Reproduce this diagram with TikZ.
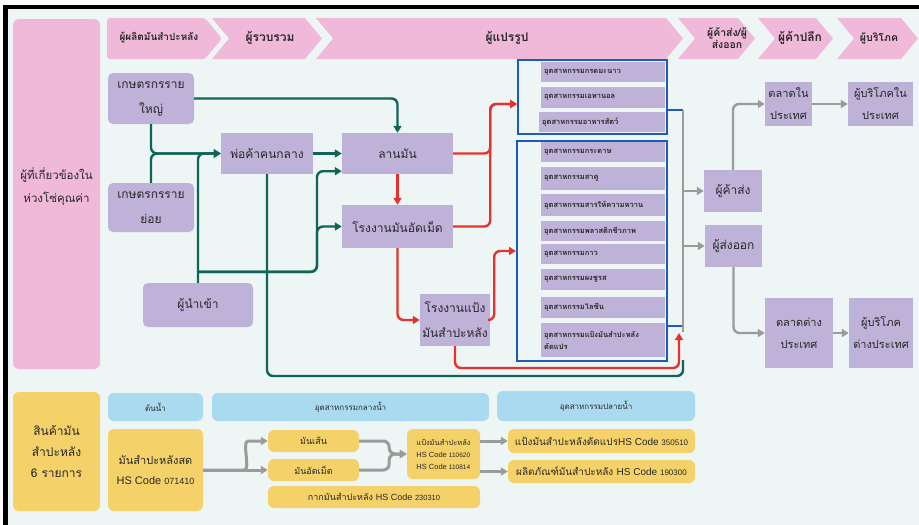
\documentclass[tikz,border=0pt]{standalone}
\usepackage{fontspec}
\setmainfont[Script=Thai]{Loma}
\newfontfamily\latf{Liberation Sans}
\usetikzlibrary{arrows.meta,calc}
\definecolor{bgc}{RGB}{238,245,245}
\definecolor{pinkc}{RGB}{240,185,217}
\definecolor{purp}{RGB}{190,178,216}
\definecolor{yel}{RGB}{245,210,105}
\definecolor{lblue}{RGB}{170,218,240}
\definecolor{tealc}{RGB}{16,100,88}
\definecolor{redc}{RGB}{230,50,45}
\definecolor{greyc}{RGB}{155,155,155}
\definecolor{bluec}{RGB}{30,90,185}
\definecolor{txt}{RGB}{40,40,40}
\begin{document}
\begin{tikzpicture}[x=1pt,y=-1pt,
  pbox/.style={fill=purp,draw=none,align=center,inner sep=1pt,text=txt,font=\fontsize{12}{25}\selectfont},
  rbox/.style={pbox,rounded corners=5pt},
  ibox/.style={fill=purp,draw=none,anchor=west,align=left,text width=118pt,inner xsep=3pt,inner ysep=0pt,text=txt,font=\bfseries\fontsize{7.5}{12}\selectfont},
  frame/.style={draw=bluec,line width=2pt,inner sep=0pt},
  hdr/.style={text=txt,align=center,font=\bfseries\fontsize{12}{13}\selectfont},
  tarr/.style={draw=tealc,line width=2.4pt,rounded corners=6pt,-{Triangle[length=7pt,width=8pt]}},
  tln/.style={draw=tealc,line width=2.4pt,rounded corners=6pt},
  rarr/.style={draw=redc,line width=2.4pt,rounded corners=6pt,-{Triangle[length=7pt,width=8pt]}},
  rln/.style={draw=redc,line width=2.4pt,rounded corners=6pt},
  garr/.style={draw=greyc,line width=2.4pt,rounded corners=6pt,-{Triangle[length=7pt,width=8pt]}},
  gln/.style={draw=greyc,line width=2.4pt},
  bln/.style={draw=bluec,line width=2pt},
  ybox/.style={fill=yel,draw=none,rounded corners=6pt,align=center,inner sep=1pt,text=txt},
  bbox/.style={fill=lblue,draw=none,rounded corners=6pt,align=center,inner sep=1pt,text=txt,font=\fontsize{8}{10}\selectfont},
  gthick/.style={draw=greyc,line width=3pt,rounded corners=6pt,-{Triangle[length=7pt,width=8pt]}}
]
\useasboundingbox (0,0) rectangle (919,525);
\fill[white] (0,0) rectangle (919,525);
\fill[bgc] (8,9) rectangle (919,525);
\fill[black] (3,5) rectangle (919,9);
\fill[black] (3,5) rectangle (8,525);

% header chevrons
\fill[pinkc,rounded corners=3pt] (107,18) -- (205,18) -- (222,38.5) -- (205,59) -- (107,59) -- cycle;
\fill[pinkc] (212,18) -- (305,18) -- (322,38.5) -- (305,59) -- (212,59) -- (229,38.5) -- cycle;
\fill[pinkc] (316,18) -- (666,18) -- (683,38.5) -- (666,59) -- (316,59) -- (333,38.5) -- cycle;
\fill[pinkc] (678,18) -- (738,18) -- (755,38.5) -- (738,59) -- (678,59) -- (695,38.5) -- cycle;
\fill[pinkc] (758,18) -- (816,18) -- (833,38.5) -- (816,59) -- (758,59) -- (775,38.5) -- cycle;
\fill[pinkc] (837,18) -- (901,18) -- (918,38.5) -- (901,59) -- (837,59) -- (854,38.5) -- cycle;
\node[hdr,font=\bfseries\fontsize{10}{12}\selectfont] (h1) at (159,38) {ผู้ผลิตมันสำปะหลัง};
\node[hdr] (h2) at (270,38) {ผู้รวบรวม};
\node[hdr] (h3) at (507,38) {ผู้แปรรูป};
\node[hdr,font=\bfseries\fontsize{10.5}{12}\selectfont] (h4) at (727,38) {ผู้ค้าส่ง/ผู้\\ส่งออก};
\node[hdr] (h5) at (800,38) {ผู้ค้าปลีก};
\node[hdr,font=\bfseries\fontsize{10.5}{12}\selectfont] (h6) at (879,38) {ผู้บริโภค};

% left label
\fill[pinkc,rounded corners=6pt] (13,19) rectangle (100,369);
\node[text=txt,align=center,font=\fontsize{11.5}{23}\selectfont] (lbl) at (56.5,187) {ผู้ที่เกี่ยวข้องใน\\ห่วงโซ่คุณค่า};

% purple nodes
\node[rbox,minimum width=86pt,minimum height=51pt] (bf) at (151,98.5) {เกษตรกรราย\\ใหญ่};
\node[rbox,minimum width=86pt,minimum height=49pt] (sf) at (151,207.5) {เกษตรกรราย\\ย่อย};
\node[rbox,minimum width=110pt,minimum height=44pt] (imp) at (198,305) {ผู้นำเข้า};
\node[pbox,minimum width=92pt,minimum height=41pt] (mid) at (267,153.5) {พ่อค้าคนกลาง};
\node[pbox,minimum width=111pt,minimum height=41pt] (lan) at (397.5,153.5) {ลานมัน};
\node[pbox,minimum width=111pt,minimum height=43pt] (pel) at (397.5,226.5) {โรงงานมันอัดเม็ด};
\node[pbox,minimum width=70pt,minimum height=52pt] (sta) at (455,320) {โรงงานแป้ง\\มันสำปะหลัง};

% industry items
\node[ibox,minimum height=20pt] (a1) at (541,72) {อุตสาหกรรมกรดมะนาว};
\node[ibox,minimum height=21pt] (a2) at (541,97.5) {อุตสาหกรรมเอทานอล};
\node[ibox,minimum height=20pt,text width=120pt] (a3) at (539,122) {อุตสาหกรรมอาหารสัตว์};
\node[ibox,minimum height=20pt] (b1) at (541,152) {อุตสาหกรรมกระดาษ};
\node[ibox,minimum height=23pt] (b2) at (541,178.5) {อุตสาหกรรมสาคู};
\node[ibox,minimum height=22pt] (b3) at (541,205) {อุตสาหกรรมสารให้ความหวาน};
\node[ibox,minimum height=20pt] (b4) at (541,231) {อุตสาหกรรมพลาสติกชีวภาพ};
\node[ibox,minimum height=20pt] (b5) at (541,254) {อุตสาหกรรมกาว};
\node[ibox,minimum height=21pt] (b6) at (541,279.5) {อุตสาหกรรมผงชูรส};
\node[ibox,minimum height=21pt] (b7) at (541,307.5) {อุตสาหกรรมไลซีน};
\node[ibox,minimum height=34pt] (b8) at (541,340) {อุตสาหกรรมแป้งมันสำปะหลัง\\ดัดแปร};
\node[frame,minimum width=149pt,minimum height=74pt] (g1) at (592.5,97) {};
\node[frame,minimum width=150pt,minimum height=220pt] (g2) at (592,251) {};

% right nodes
\node[pbox,minimum width=58pt,minimum height=42pt] (ws) at (733,191) {ผู้ค้าส่ง};
\node[pbox,minimum width=57pt,minimum height=42pt] (exp) at (733.5,246) {ผู้ส่งออก};
\node[pbox,minimum width=47pt,minimum height=44pt,font=\fontsize{11}{22}\selectfont] (dm) at (788.5,104) {ตลาดใน\\ประเทศ};
\node[pbox,minimum width=65pt,minimum height=44pt,font=\fontsize{11}{22}\selectfont] (dc) at (880.5,104) {ผู้บริโภคใน\\ประเทศ};
\node[pbox,minimum width=68pt,minimum height=70pt,font=\fontsize{11}{22}\selectfont] (fm) at (799,333) {ตลาดต่าง\\ประเทศ};
\node[pbox,minimum width=64pt,minimum height=70pt,font=\fontsize{11}{22}\selectfont] (fc) at (881,333) {ผู้บริโภค\\ต่างประเทศ};

% teal connectors
\coordinate (j1) at ($(imp.north)+(0,-11)$);
\coordinate (tj) at ($(j1)+(119,0)$);
\coordinate (lanlow) at ($(lan.south west)+(0,-3)$);
\draw[tarr] (bf.east) -| (lan.north);
\draw[tarr] (bf.south) |- (mid.west);
\draw[tarr] (sf.north) |- (mid.west);
\draw[tarr] (imp.north) |- (mid.west);
\draw[tarr] (j1) -- (tj) |- (pel.west);
\draw[tarr] (j1) -- (tj) |- (lanlow);
\draw[tarr] (mid.east) -- (lan.west);
\coordinate (gb) at (683,376);
\draw[tln] (mid.south) |- (gb) -- ++(0,-16);

% red connectors
\coordinate (g1in) at ($(g1.west)+(0,7)$);
\draw[rarr] (lan.east) -- ++(37,0) |- (g1in);
\draw[rarr] (pel.east) -- ++(37,0) |- (g1in);
\draw[rarr] (lan.south) -- (pel.north);
\draw[rarr] (pel.south) |- (sta.west);
\draw[rarr] (sta.east) -- ++(4,0) |- (g2.west);
\coordinate (redtip) at (679,333);
\draw[rarr] (sta.south) |- ($(redtip)+(0,35)$) -- (redtip);

% grey / blue connectors
\coordinate (gv) at ($(g1.east)+(15,13)$);
\draw[bln] ($(g1.east)+(0,13)$) -- (gv);
\draw[bln] ($(g2.south east)+(0,-36)$) -- ++(15,0);
\draw[gln] (gv) -- ++(0,222);
\draw[garr] (gv |- ws.west) -- (ws.west);
\draw[garr] (gv |- exp.west) -- (exp.west);
\draw[garr] (ws.north) |- (dm.west);
\draw[garr] (exp.south) |- (fm.west);
\draw[garr] (dm.east) -- (dc.west);
\draw[garr] (fm.east) -- (fc.west);

% bottom section
\node[ybox,minimum width=87pt,minimum height=119pt,font=\fontsize{12}{21}\selectfont] (yl) at (56.5,451.5) {สินค้ามัน\\สำปะหลัง\\6 รายการ};
\node[bbox,minimum width=95pt,minimum height=28pt] (hd1) at (155.5,407) {ต้นน้ำ};
\node[bbox,minimum width=277pt,minimum height=28pt] (hd2) at (350.5,407) {อุตสาหกรรมกลางน้ำ};
\node[bbox,minimum width=198pt,minimum height=30pt] (hd3) at (596,406) {อุตสาหกรรมปลายน้ำ};
\node[ybox,minimum width=95pt,minimum height=82pt,font=\fontsize{11}{20}\selectfont] (fresh) at (155.5,470) {มันสำปะหลังสด\\{\latf HS Code {\fontsize{9}{10}\selectfont 071410}}};
\node[ybox,minimum width=91pt,minimum height=22pt,font=\fontsize{9}{10}\selectfont] (chip) at (313.5,441) {มันเส้น};
\node[ybox,minimum width=91pt,minimum height=22pt,font=\fontsize{9}{10}\selectfont] (pel2) at (313.5,470) {มันอัดเม็ด};
\node[ybox,minimum width=212pt,minimum height=22pt,font=\fontsize{9}{10}\selectfont] (pulp) at (374,497) {กากมันสำปะหลัง {\latf HS Code {\fontsize{7.5}{8}\selectfont 230310}}};
\node[ybox,minimum width=73pt,minimum height=50pt,align=left,font=\fontsize{7.5}{12}\selectfont] (sta2) at (443.5,454) {แป้งมันสำปะหลัง\\{\latf HS Code {\fontsize{6.5}{7}\selectfont 110620}}\\{\latf HS Code {\fontsize{6.5}{7}\selectfont 110814}}};
\node[ybox,minimum width=187pt,minimum height=24pt,font=\fontsize{10}{11}\selectfont] (mod) at (601.5,441) {แป้งมันสำปะหลังดัดแปร{\latf HS Code {\fontsize{8}{9}\selectfont 350510}}};
\node[ybox,minimum width=187pt,minimum height=23pt,font=\fontsize{10}{11}\selectfont] (prod) at (601.5,471.5) {ผลิตภัณฑ์มันสำปะหลัง {\latf HS Code {\fontsize{8}{9}\selectfont 190300}}};

\draw[gthick] (fresh.east) -- (pel2.west);
\draw[gthick] (fresh.east) -- ++(35,0) to[out=0,in=180] ++(16,-29) -- (chip.west);
\draw[gthick] (chip.east) -- ++(30,0) |- (sta2.west);
\draw[gthick] (pel2.east) -- ++(30,0) |- (sta2.west);
\draw[gthick] (sta2.east |- mod.west) -- (mod.west);
\draw[gthick] (sta2.east |- prod.west) -- (prod.west);
\end{tikzpicture}
\end{document}
